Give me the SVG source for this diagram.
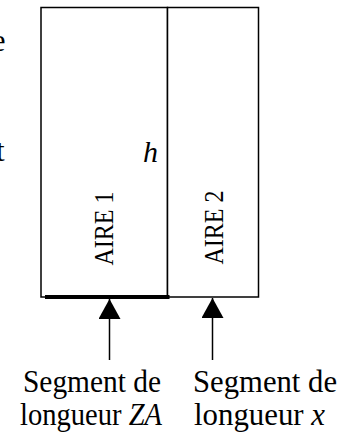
<svg xmlns="http://www.w3.org/2000/svg" width="351" height="434" viewBox="0 0 351 434">
<style>
text{font-family:"Liberation Serif","Times New Roman",serif;fill:#000}
.lbl{font-size:31px}
.area{font-size:27px}
.it{font-style:italic}
.box{fill:#fff;stroke:#000;stroke-width:1.5}
.conn{stroke:#000;stroke-width:1.5;fill:none}
</style>
<defs>
<marker id="ah" viewBox="0 0 20 22" refX="20" refY="11" markerWidth="20" markerHeight="22" markerUnits="userSpaceOnUse" orient="auto">
<path d="M0,0 L20,11 L0,22 Z" fill="#000"/>
</marker>
</defs>
<rect width="351" height="434" fill="#fff"/>
<g id="clipped-text">
<text class="lbl" x="5.5" y="51" text-anchor="end">e</text>
<text class="lbl" x="4.5" y="161" text-anchor="end">t</text>
</g>
<g id="aire1">
<rect class="box" x="41" y="7.5" width="126.5" height="289.5"/>
<text class="area" transform="translate(113,228.5) rotate(-90)" text-anchor="middle" textLength="74" lengthAdjust="spacingAndGlyphs">AIRE 1</text>
</g>
<g id="aire2">
<rect class="box" x="167.5" y="7.5" width="91" height="289.5"/>
<text class="area" transform="translate(223,227.5) rotate(-90)" text-anchor="middle" textLength="74" lengthAdjust="spacingAndGlyphs">AIRE 2</text>
</g>
<g id="h-label">
<text class="lbl it" x="158" y="162" text-anchor="end" style="font-size:30px">h</text>
</g>
<g id="segment-za">
<line x1="45" y1="297" x2="169.5" y2="297" stroke="#000" stroke-width="4"/>
</g>
<g id="label-za">
<text class="lbl" x="23" y="392" textLength="138" lengthAdjust="spacingAndGlyphs">Segment de</text>
<text class="lbl" x="20" y="425" textLength="142" lengthAdjust="spacingAndGlyphs">longueur <tspan class="it">ZA</tspan></text>
</g>
<g id="label-x">
<text class="lbl" x="193" y="392" textLength="144" lengthAdjust="spacingAndGlyphs">Segment de</text>
<text class="lbl" x="194" y="425" textLength="131" lengthAdjust="spacingAndGlyphs">longueur <tspan class="it">x</tspan></text>
</g>
<g id="connectors">
<line class="conn" x1="109.5" y1="360" x2="109.5" y2="299" marker-end="url(#ah)"/>
<line class="conn" x1="212.5" y1="360" x2="212.5" y2="298" marker-end="url(#ah)"/>
</g>
</svg>
